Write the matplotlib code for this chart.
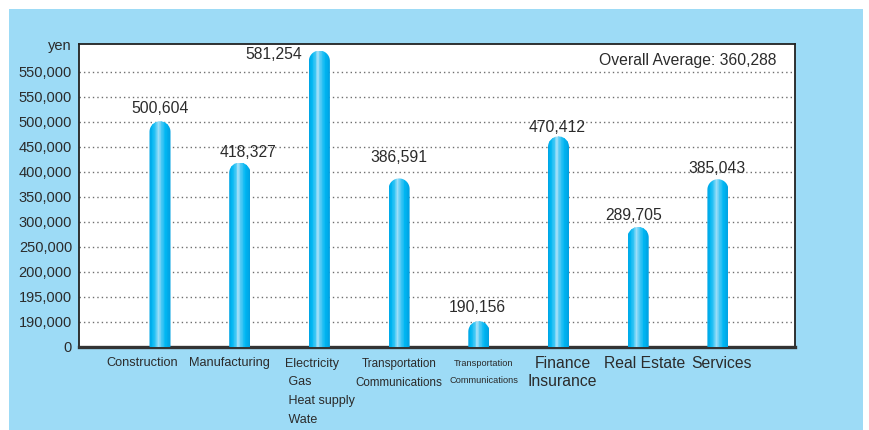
import numpy as np
import matplotlib
matplotlib.use('Agg')
import matplotlib.pyplot as plt
from matplotlib.patches import Rectangle, PathPatch
from matplotlib.path import Path
from matplotlib.colors import LinearSegmentedColormap
from matplotlib.transforms import IdentityTransform

# ---------------- data ----------------
categories = ['Construction', 'Manufacturing', 'Electricity\n Gas\n Heat supply\n Wate',
              'Transportation\nCommunications', 'Transportation\nCommunications',
              'Finance\nInsurance', 'Real Estate', 'Services']
values = [500604, 418327, 581254, 386591, 190156, 470412, 289705, 385043]
value_labels = ['500,604', '418,327', '581,254', '386,591', '190,156', '470,412', '289,705', '385,043']
average_label = 'Overall Average: 360,288'
ytick_labels = ['0', '190,000', '195,000', '200,000', '250,000', '300,000', '350,000',
                '400,000', '450,000', '500,000', '550,000', '550,000']
# uneven axis breakpoints as drawn on the original chart (one per grid step)
axis_values = [0, 190000, 195000, 200000, 250000, 300000, 350000, 400000,
               450000, 500000, 550000, 567000, 584000, 601000]

# ---------------- style ----------------
BG = '#9DDBF6'
TXT = '#2b2b2b'
DPI = 100
W, H = 869, 430
REG = ['Liberation Sans', 'DejaVu Sans']

slots = np.arange(len(axis_values), dtype=float)


def fwd(v):
    return np.interp(v, axis_values, slots)


def inv(s):
    return np.interp(s, slots, axis_values)


fig = plt.figure(figsize=(W / DPI, H / DPI), dpi=DPI)
fig.patch.set_facecolor('white')
fig.add_artist(Rectangle((9 / W, 0), (863 - 9) / W, (H - 9) / H, transform=fig.transFigure,
                         facecolor=BG, edgecolor='none', zorder=0))

ax = fig.add_axes([79 / W, 83 / H, 716 / W, 303 / H])
ax.set_facecolor('white')
ax.set_yscale('function', functions=(fwd, inv))

step_px = 79.7
ax.set_xlim(-81 / step_px, 635 / step_px)
ax.set_ylim(0, inv(12.1))

ax.set_yticks(axis_values[:len(ytick_labels)])
ax.set_yticklabels(ytick_labels, fontsize=10.5, color=TXT, family=REG)
ax.set_xticks([])
ax.tick_params(axis='y', length=0, pad=5)
ax.yaxis.grid(True, linestyle=(0, (1, 2.2)), color='#6f6f6f', linewidth=1.0)
ax.set_axisbelow(True)

for s in ['left', 'right', 'top']:
    ax.spines[s].set_color('#222222')
    ax.spines[s].set_linewidth(1.3)
ax.spines['bottom'].set_color('#333333')
ax.spines['bottom'].set_linewidth(2.4)

# ---------------- cylinder bars ----------------
cmap = LinearSegmentedColormap.from_list(
    'cyl', [(0.0, '#00A6E6'), (0.12, '#00B6F2'), (0.30, '#40C8F5'), (0.42, '#A6E1F8'),
            (0.55, '#56CBF5'), (0.78, '#00B6F2'), (1.0, '#00A2E2')])
bar_px = 21.0
w = bar_px / step_px
N = 28
for i, v in enumerate(values):
    xl, yb = ax.transData.transform((i - w / 2, 0))
    xr, yt = ax.transData.transform((i + w / 2, v))
    r = (xr - xl) / 2
    xc = (xl + xr) / 2
    ang = np.linspace(0, np.pi, 48)
    verts = [(xl, yb - 4), (xr, yb - 4), (xr, yt - r)]
    verts += [(xc + r * np.cos(a), yt - r + r * np.sin(a)) for a in ang[1:]]
    verts += [(xl, yb - 4)]
    clip = PathPatch(Path(verts, closed=True), transform=IdentityTransform())
    edges = np.linspace(i - w / 2, i + w / 2, N + 1)
    centers = (edges[:-1] + edges[1:]) / 2
    cols = cmap(np.linspace(0, 1, N))
    bars = ax.bar(centers, [v] * N, width=w / N * 1.15, color=cols, linewidth=0, zorder=3)
    for b in bars:
        b.set_clip_path(clip)

# ---------------- value labels ----------------
px2pt = 72.0 / DPI
val_off = [(0, 13), (8, 10), (-46, -4), (0, 21), (-1, 14), (-1, 9), (-5, 11), (-1, 11)]
for i, (v, lab) in enumerate(zip(values, value_labels)):
    dx, dy = val_off[i]
    ax.annotate(lab, xy=(i, v), xytext=(dx * px2pt, dy * px2pt), textcoords='offset points',
                ha='center', va='center', fontsize=11.3, color=TXT, family=REG, zorder=5)

# ---------------- category labels ----------------
# (x offset px, ha, font size pt, line spacing)
cat_style = [
    (-17.5, 'center', 9.2, 1.58),
    (-10, 'center', 9.2, 1.58),
    (-34.4, 'left', 9.0, 1.76),
    (0, 'center', 8.4, 1.74),
    (5, 'center', 6.7, 2.05),
    (4, 'center', 11.3, 1.29),
    (6, 'center', 11.3, 1.29),
    (4, 'center', 11.3, 1.29),
]
for i, lab in enumerate(categories):
    dx, ha, fs, ls = cat_style[i]
    em = fs / px2pt
    dy = 17.3 - 0.54 * em
    ax.annotate(lab, xy=(i, 0), xytext=(dx * px2pt, -dy * px2pt), textcoords='offset points',
                ha=ha, va='top', multialignment='left' if ha == 'left' else 'center',
                fontsize=fs, color=TXT, family=REG, linespacing=ls, annotation_clip=False)

# ---------------- extra texts ----------------
ax.annotate('yen', xy=(0, 1), xycoords='axes fraction', xytext=(-7 * px2pt, -2 * px2pt),
            textcoords='offset points', ha='right', va='center', fontsize=10.5, color=TXT,
            family=REG)
ax.annotate(average_label, xy=(1, 1), xycoords='axes fraction', xytext=(-19 * px2pt, -17 * px2pt),
            textcoords='offset points', ha='right', va='center', fontsize=11.3, color=TXT,
            family=REG, zorder=5)

fig.savefig('out.png', dpi=DPI, facecolor=fig.get_facecolor())
